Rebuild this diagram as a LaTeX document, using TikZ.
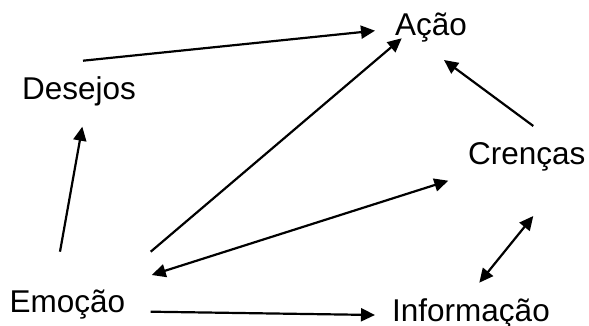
\documentclass[tikz,border=0pt]{standalone}
\usepackage{fontspec}
\setmainfont{Liberation Sans}
\usetikzlibrary{arrows.meta}
\begin{document}
\begin{tikzpicture}[x=1pt,y=-1pt,
  label/.style={anchor=base west,inner sep=0pt,font=\fontsize{31.5}{36}\selectfont},
  tip/.tip={Triangle[length=14pt,width=13pt]},
  link/.style={line width=2.2pt,-tip},
  link2/.style={line width=2.2pt,tip-tip}]
\useasboundingbox (0,0) rectangle (589,326);
% concepts
\node[label] (acao) at (395,36) {Ação};
\node[label] (desejos) at (22,100) {Desejos};
\node[label] (crencas) at (468,164.3) {Crenças};
\node[label] (emocao) at (9.5,312.7) {Emoção};
\node[label] (info) at (392,321.5) {Informação};
% connector ends
\coordinate (d-out) at (83,60.7);
\coordinate (a-in1) at (375,30.7);
\coordinate (a-in2) at (401.7,38.3);
\coordinate (a-in3) at (444,60);
\coordinate (e-up) at (60,251.7);
\coordinate (d-in) at (82.3,126.7);
\coordinate (e-diag) at (150.7,251.7);
\coordinate (c-out) at (533.3,126);
\coordinate (e-mid) at (151.7,275);
\coordinate (c-left) at (448.3,180.7);
\coordinate (c-low) at (533.3,216);
\coordinate (i-top) at (479.3,282.7);
\coordinate (e-right) at (150.7,311.7);
\coordinate (i-in) at (375,315);
% influences
\draw[link] (d-out) -- (a-in1);
\draw[link] (e-up) -- (d-in);
\draw[link] (e-diag) -- (a-in2);
\draw[link] (c-out) -- (a-in3);
\draw[link2] (e-mid) -- (c-left);
\draw[link2] (i-top) -- (c-low);
\draw[link] (e-right) -- (i-in);
\end{tikzpicture}
\end{document}
